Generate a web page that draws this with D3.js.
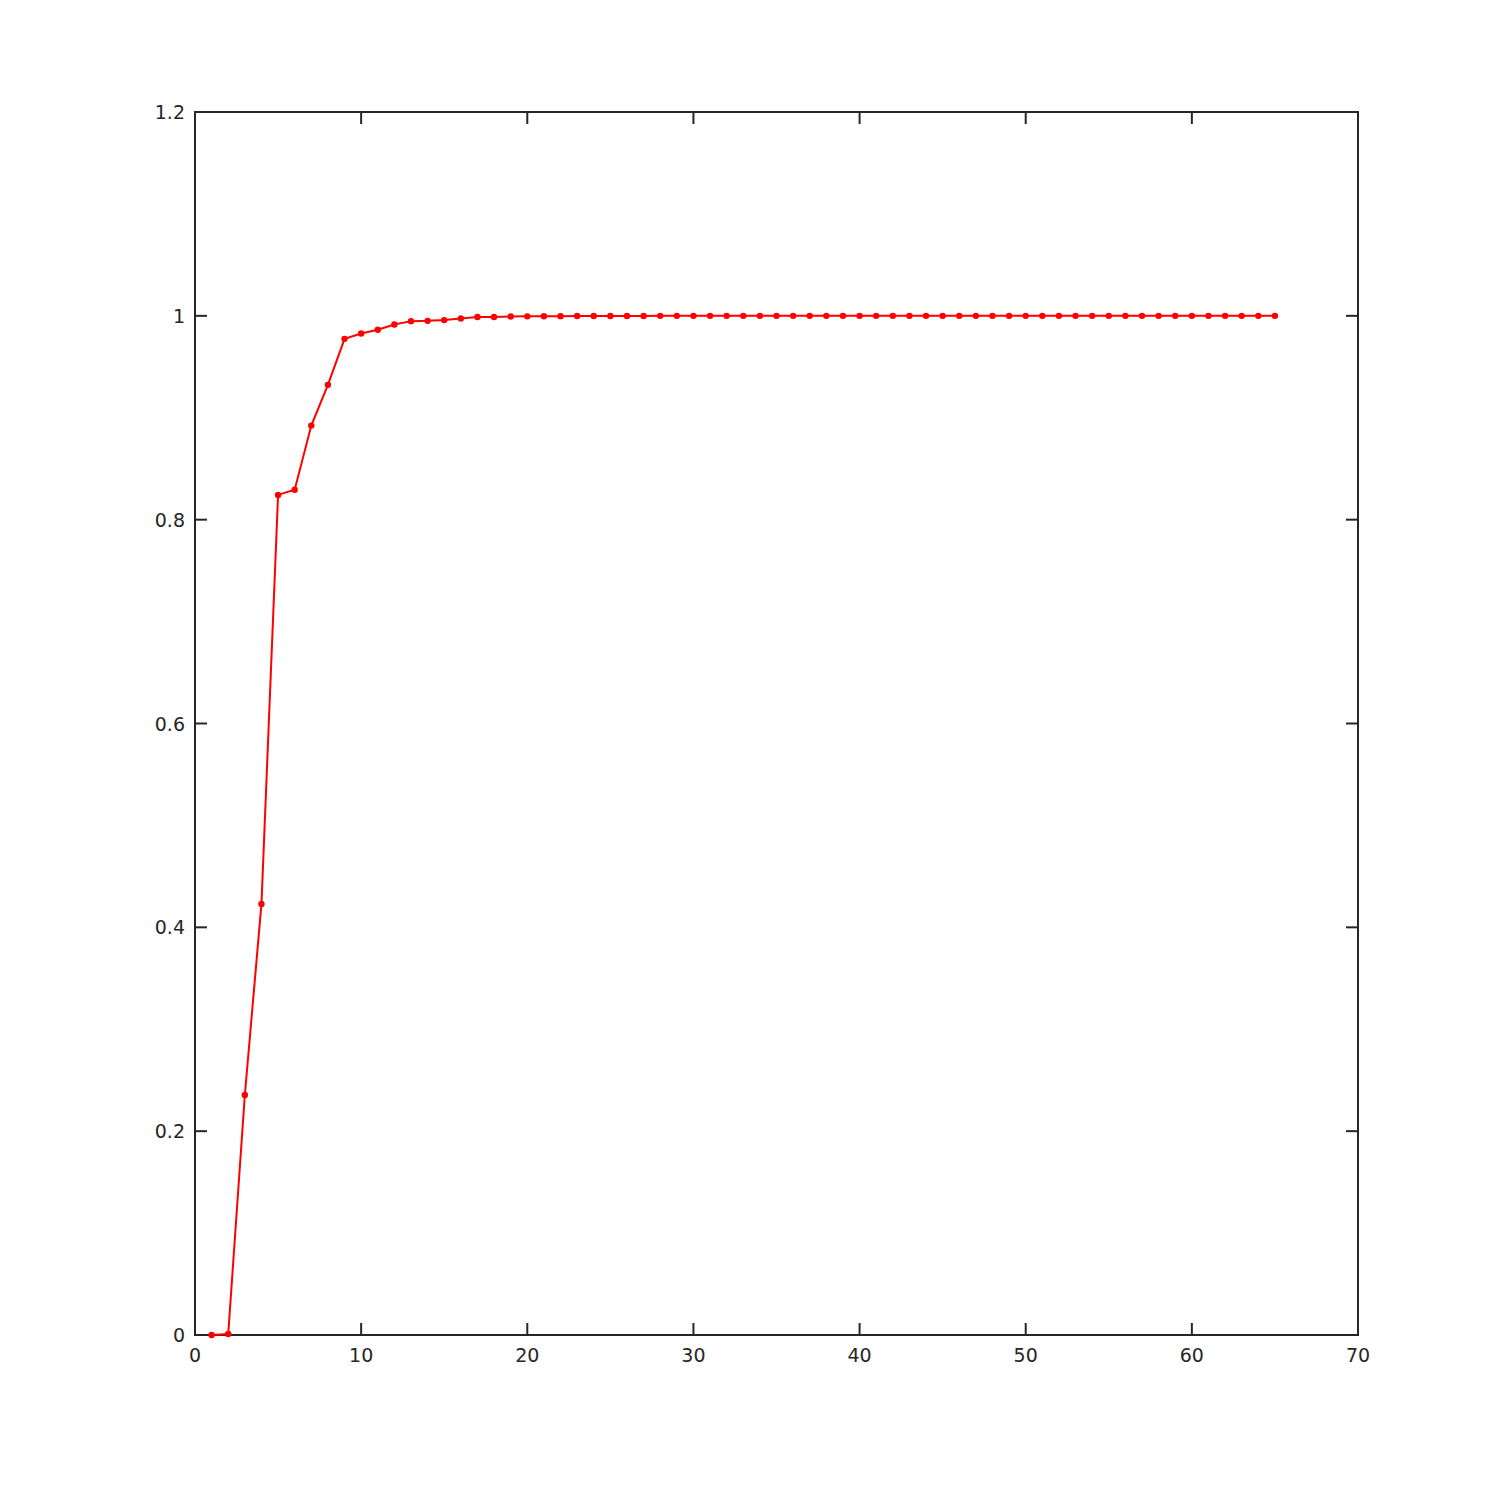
<html>
<head>
<script src="https://d3js.org/d3.v7.min.js"></script>
<style>
body { margin: 0; background: #fff; }
text { font-family: 'DejaVu Sans', sans-serif; font-size: 19px; fill: #262626; }
</style>
</head>
<body>
<div id="plot"></div>
<script>
var width = 1500, height = 1500;
var plotLeft = 195, plotRight = 1358, plotTop = 112, plotBottom = 1335;

// series, x = 1..65
var xValues = d3.range(1, 66);
var yValues = [0, 0.001, 0.2355, 0.423, 0.8243, 0.8293, 0.8923, 0.9323, 0.9774, 0.9826,
  0.9863, 0.9915, 0.9948, 0.9951, 0.9958, 0.9974, 0.9988, 0.9988, 0.9993, 0.9995,
  0.9996, 0.9997, 0.9998, 0.9998, 0.9999, 0.9999, 0.9999, 1, 1, 1,
  1, 1, 1, 1, 1, 1, 1, 1, 1, 1,
  1, 1, 1, 1, 1, 1, 1, 1, 1, 1,
  1, 1, 1, 1, 1, 1, 1, 1, 1, 1,
  1, 1, 1, 1, 1];
var xTicks = [0, 10, 20, 30, 40, 50, 60, 70];
var yTicks = [0, 0.2, 0.4, 0.6, 0.8, 1, 1.2];

var svg = d3.select("#plot").append("svg")
  .attr("width", width).attr("height", height);

var xScale = d3.scaleLinear().domain([0, 70]).range([plotLeft, plotRight]);
var yScale = d3.scaleLinear().domain([0, 1.2]).range([plotBottom, plotTop]);

var tickLen = 12;
var axisColor = "#262626";

// ticks, inside on all four sides
var axes = svg.append("g").style("stroke", axisColor).style("stroke-width", 2);
xTicks.forEach(function (t) {
  axes.append("line").attr("x1", xScale(t)).attr("x2", xScale(t))
    .attr("y1", plotBottom).attr("y2", plotBottom - tickLen);
  axes.append("line").attr("x1", xScale(t)).attr("x2", xScale(t))
    .attr("y1", plotTop).attr("y2", plotTop + tickLen);
});
yTicks.forEach(function (t) {
  axes.append("line").attr("y1", yScale(t)).attr("y2", yScale(t))
    .attr("x1", plotLeft).attr("x2", plotLeft + tickLen);
  axes.append("line").attr("y1", yScale(t)).attr("y2", yScale(t))
    .attr("x1", plotRight).attr("x2", plotRight - tickLen);
});
axes.append("rect").attr("x", plotLeft).attr("y", plotTop)
  .attr("width", plotRight - plotLeft).attr("height", plotBottom - plotTop)
  .style("fill", "none");

svg.selectAll("text.xt").data(xTicks).enter().append("text")
  .attr("class", "xt")
  .attr("x", d => xScale(d)).attr("y", plotBottom + 27)
  .attr("text-anchor", "middle").text(d => d);
svg.selectAll("text.yt").data(yTicks).enter().append("text")
  .attr("class", "yt")
  .attr("x", plotLeft - 10).attr("y", d => yScale(d) + 7)
  .attr("text-anchor", "end").text(d => d);

var points = xValues.map((x, i) => ({ x: x, y: yValues[i] }));
var line = d3.line().x(d => xScale(d.x)).y(d => yScale(d.y));

svg.append("path").attr("d", line(points))
  .style("fill", "none").style("stroke", "#ff0000").style("stroke-width", 2);

svg.selectAll("circle").data(points).enter().append("circle")
  .attr("cx", d => xScale(d.x)).attr("cy", d => yScale(d.y))
  .attr("r", 3.2).style("fill", "#ff0000");
</script>
</body>
</html>
